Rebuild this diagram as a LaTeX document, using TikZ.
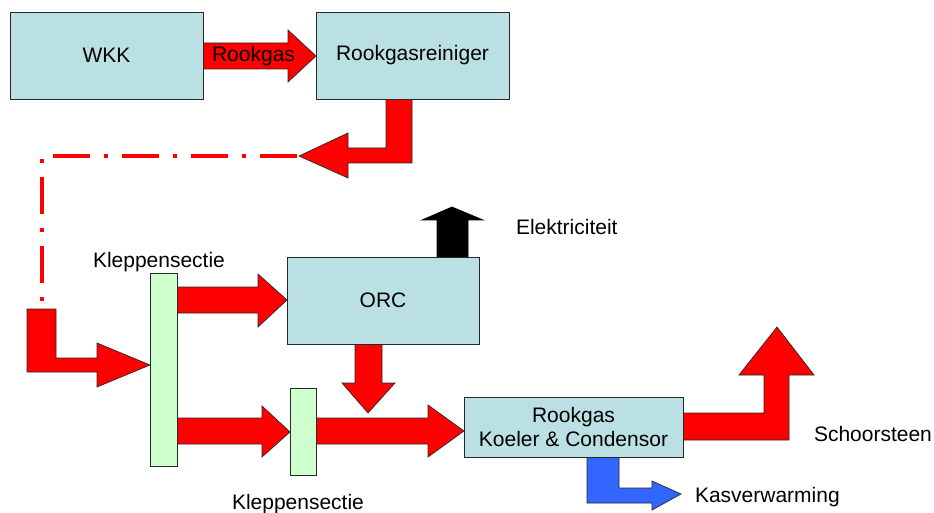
\documentclass[tikz,border=0pt]{standalone}
\usepackage{fontspec}
\setmainfont{Liberation Sans}
\definecolor{boxblue}{RGB}{186,224,227}
\definecolor{klepgreen}{RGB}{204,255,204}
\definecolor{flowred}{RGB}{255,0,0}
\definecolor{heatblue}{RGB}{51,102,255}
\definecolor{edge}{RGB}{40,40,40}
\tikzset{
  box/.style={draw=edge, fill=boxblue, line width=0.9pt, inner sep=0pt, outer sep=0pt, align=center, font=\fontsize{21}{24}\selectfont},
  klep/.style={draw=edge, fill=klepgreen, line width=0.9pt, inner sep=0pt, outer sep=0pt},
  redarrow/.style={draw=edge, fill=flowred, line width=0.7pt, line join=miter},
  blackarrow/.style={draw=black, fill=black, line width=0.7pt},
  bluearrow/.style={draw=edge, fill=heatblue, line width=0.7pt},
  lbl/.style={inner sep=0pt, outer sep=0pt, anchor=base west, font=\fontsize{21}{24}\selectfont},
  dashdot/.style={draw=flowred, line width=4pt, dash pattern=on 37pt off 14pt on 4pt off 14pt}
}
\begin{document}
\begin{tikzpicture}[x=1pt, y=-1pt]
\useasboundingbox (0,0) rectangle (934,513);
% arrows (drawn first)
\draw[redarrow] (203,43) -- (288,43) -- (288,30) -- (316,56) -- (288,82) -- (288,69) -- (203,69) -- cycle;
\draw[redarrow] (386,99) -- (412,99) -- (412,163) -- (348,163) -- (348,178) -- (299,156) -- (348,133) -- (348,148) -- (386,148) -- cycle;
\coordinate (dd1) at (297,156);
\coordinate (dd2) at (42,156);
\coordinate (dd3) at (42,305);
\draw[dashdot] (dd1) -- (dd2) -- (dd3);
\draw[redarrow] (27,309) -- (56,309) -- (56,358) -- (97,358) -- (97,343) -- (150,365) -- (97,387) -- (97,372) -- (27,372) -- cycle;
\draw[redarrow] (177,287) -- (258,287) -- (258,274) -- (287,300) -- (258,327) -- (258,313) -- (177,313) -- cycle;
\draw[redarrow] (177,418) -- (262,418) -- (262,406) -- (290,432) -- (262,457) -- (262,444) -- (177,444) -- cycle;
\draw[redarrow] (316,418) -- (428,418) -- (428,405) -- (464,431) -- (428,457) -- (428,444) -- (316,444) -- cycle;
\draw[redarrow] (355,344) -- (382,344) -- (382,383) -- (395,383) -- (368,413) -- (342,383) -- (355,383) -- cycle;
\draw[blackarrow] (437,257) -- (437,220) -- (422,220) -- (452,207) -- (483,220) -- (468,220) -- (468,257) -- cycle;
\draw[redarrow] (683,413) -- (764,413) -- (764,375) -- (739,375) -- (777,327) -- (814,375) -- (789,375) -- (789,440) -- (683,440) -- cycle;
\draw[bluearrow] (587,457) -- (619,457) -- (619,488) -- (652,488) -- (652,481) -- (681,494) -- (652,510) -- (652,503) -- (587,503) -- cycle;
% boxes
\node[box, minimum width=193pt, minimum height=87pt] (wkk) at (106.5,55.5) {WKK};
\node[box, minimum width=193pt, minimum height=87pt] (rgr) at (412.5,55.5) {Rookgasreiniger};
\node[box, minimum width=192pt, minimum height=87pt] (orc) at (383,300.5) {ORC};
\node[box, minimum width=219pt, minimum height=60pt] (koel) at (573.5,427) {Rookgas\\Koeler \& Condensor};
\node[klep, minimum width=27pt, minimum height=193pt] (klep1) at (163.5,369.5) {};
\node[klep, minimum width=26pt, minimum height=87pt] (klep2) at (303,431.5) {};
% labels
\node[inner sep=0pt, font=\fontsize{21}{24}\selectfont] (rookgas) at (253.5,56) {Rookgas};
\node[lbl] (elek) at (516,234) {Elektriciteit};
\node[lbl] (schoor) at (814,441) {Schoorsteen};
\node[lbl] (kas) at (695,502) {Kasverwarming};
\node[lbl] (klabel1) at (93,267) {Kleppensectie};
\node[lbl] (klabel2) at (232,509) {Kleppensectie};
\end{tikzpicture}
\end{document}
